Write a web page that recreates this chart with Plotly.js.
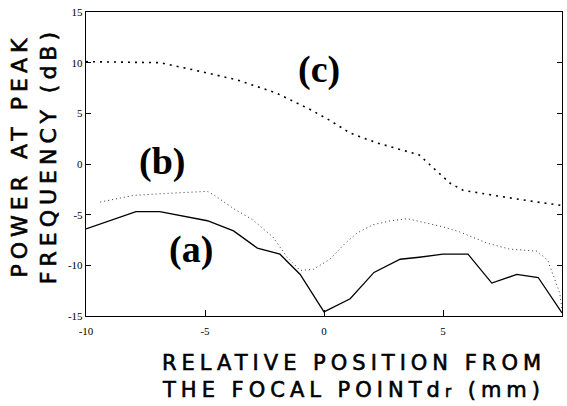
<!DOCTYPE html>
<html>
<head>
<meta charset="utf-8">
<script src="https://cdn.plot.ly/plotly-3.0.1.min.js"></script>
<style>
html,body{margin:0;padding:0;background:#fff;}
#chart{width:567px;height:406px;}
</style>
</head>
<body>
<div id="chart"></div>
<script>
// Curve (a) - solid
var xa = [-10, -7.9, -6.9, -5.6, -4.9, -3.8, -2.8, -1.85, -1.0, 0, 1.1, 2.1, 3.2, 4.0, 5.0, 6.05, 7.05, 8.1, 9.0, 10];
var ya = [-6.4, -4.7, -4.7, -5.3, -5.6, -6.6, -8.3, -8.9, -10.9, -14.6, -13.3, -10.7, -9.4, -9.2, -8.9, -8.9, -11.75, -10.9, -11.2, -14.7];
// Curve (b) - fine dotted
var xb = [-9.4, -8.0, -6.6, -4.9, -4.6, -3.8, -3.0, -2.15, -1.55, -1.0, -0.45, 0.25, 0.9, 1.4, 2.05, 2.8, 3.5, 4.3, 5.0, 5.7, 6.85, 7.8, 8.95, 9.4, 9.9, 10];
var yb = [-3.75, -3.1, -2.9, -2.7, -3.1, -4.4, -5.5, -7.2, -9.2, -10.5, -10.4, -9.4, -7.8, -6.8, -6.0, -5.6, -5.4, -5.8, -6.2, -6.7, -7.8, -8.4, -8.6, -9.5, -12.7, -14.3];
// Curve (c) - dashed
var xc = [-10, -6.9, -5.5, -3.65, -2.0, -0.6, 0.25, 1.1, 2.2, 3.3, 4.0, 4.6, 5.3, 5.85, 6.85, 7.95, 8.95, 10];
var yc = [10.1, 10.0, 9.3, 8.3, 7.0, 5.4, 4.3, 3.05, 2.1, 1.4, 0.9, -0.4, -1.9, -2.6, -3.0, -3.4, -3.75, -4.1];

var xTickVals = [-10, -5, 0, 5, 10];
var xTickText = ["-10", "-5", "0", "5", "10"];
var yTickVals = [-15, -10, -5, 0, 5, 10, 15];
var yTickText = ["-15", "-10", "-5", "0", "5", "10", "15"];

var curveLabels = ["(a)", "(b)", "(c)"];
var labelX = [-5.6, -6.8, -0.2];
var labelY = [-8.4, 0.2, 9.3];

var traces = [
  {x: xa, y: ya, mode: 'lines', line: {color: '#000', width: 1.3}, hoverinfo: 'skip'},
  {x: xb, y: yb, mode: 'lines', line: {color: '#333', width: 1, dash: '1px,3px'}, hoverinfo: 'skip'},
  {x: xc, y: yc, mode: 'lines', line: {color: '#000', width: 1.6, dash: '2px,5px'}, hoverinfo: 'skip'}
];

var annotations = curveLabels.map(function (t, i) {
  return {x: labelX[i], y: labelY[i], xref: 'x', yref: 'y', text: '<b>' + t + '</b>', showarrow: false,
    font: {family: 'Liberation Serif, Times New Roman, serif', size: 38, color: '#000'}};
});
annotations.push({
  xref: 'paper', yref: 'paper', x: 0.563, y: -0.11, xanchor: 'center', yanchor: 'top',
  text: 'RELATIVE POSITION FROM<br>THE FOCAL POINTd<span style="font-size:15px">r</span> (mm)',
  showarrow: false, align: 'center',
  font: {family: 'DejaVu Sans, sans-serif', size: 21, color: '#000'}
});
annotations.push({
  xref: 'paper', yref: 'paper', x: -0.109, y: 0.526, xanchor: 'center', yanchor: 'middle', textangle: -90,
  text: 'POWER AT PEAK<br>FREQUENCY (dB)', showarrow: false, align: 'center',
  font: {family: 'DejaVu Sans, sans-serif', size: 22, color: '#000'}
});

var layout = {
  width: 567, height: 406,
  margin: {l: 86, r: 5, t: 12, b: 90},
  paper_bgcolor: '#fff', plot_bgcolor: '#fff',
  showlegend: false,
  xaxis: {
    range: [-10, 10], tickvals: xTickVals, ticktext: xTickText,
    ticks: 'inside', ticklen: 6, tickcolor: '#000', showgrid: false, zeroline: false,
    showline: true, linecolor: '#000', linewidth: 1.2, mirror: true, ticklabelstandoff: 5,
    tickfont: {family: 'Liberation Serif, serif', size: 11, color: '#000'}
  },
  yaxis: {
    range: [-15, 15], tickvals: yTickVals, ticktext: yTickText,
    ticks: 'inside', ticklen: 5, tickcolor: '#000', showgrid: false, zeroline: false,
    showline: true, linecolor: '#000', linewidth: 1.2, mirror: 'ticks',
    tickfont: {family: 'Liberation Serif, serif', size: 11, color: '#000'}
  },
  annotations: annotations
};

Plotly.newPlot('chart', traces, layout, {staticPlot: true}).then(function () {
  var texts = document.querySelectorAll('.annotation-text');
  texts.forEach(function (el) {
    var s = el.textContent;
    if (s.indexOf('RELATIVE') === 0 || s.indexOf('POWER') === 0) {
      el.style.letterSpacing = '5px';
      el.style.stroke = '#000';
      el.style.strokeWidth = '0.6px';
    }
  });
});
</script>
</body>
</html>
